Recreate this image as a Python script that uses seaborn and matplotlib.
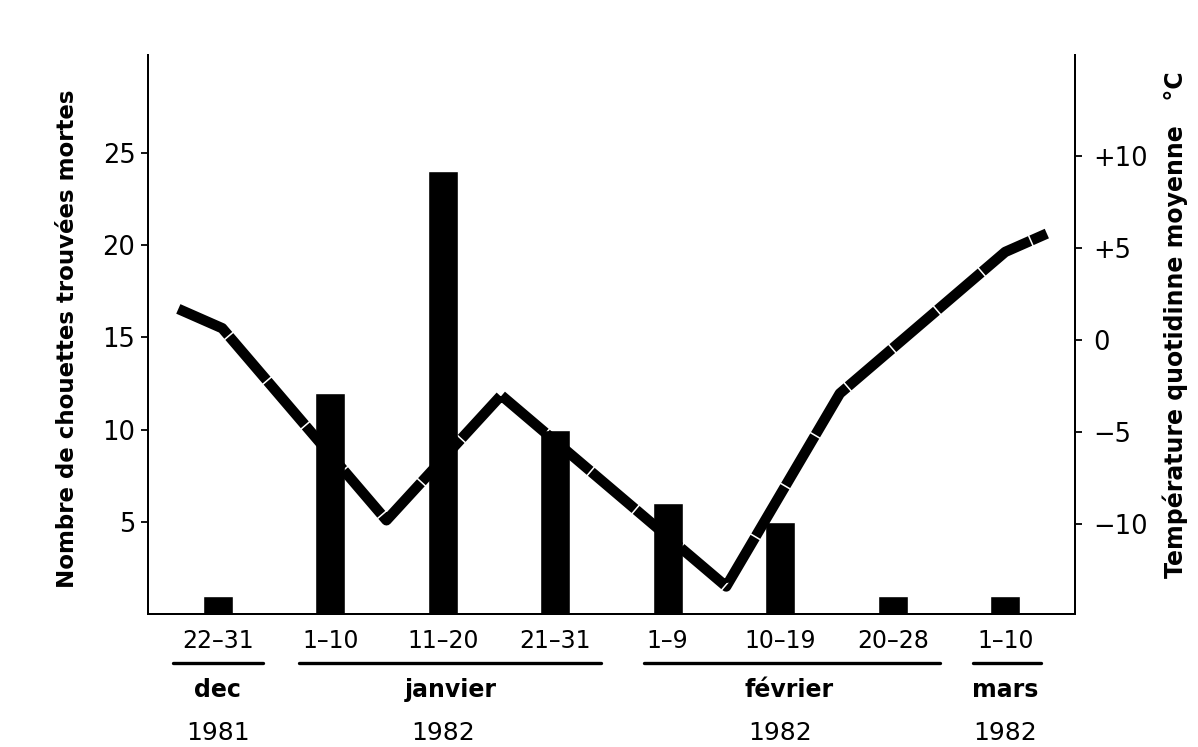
import matplotlib
matplotlib.use("Agg")
import matplotlib.pyplot as plt
import matplotlib.transforms as mtransforms
import seaborn as sns
import pandas as pd

# ---- data ----
periods = ["22–31", "1–10", "11–20", "21–31", "1–9", "10–19", "20–28", "1–10"]
owls_dead = [1, 12, 24, 10, 6, 5, 1, 1]

temp_pos = [-0.35, 0.04, 1.5, 2.52, 4.52, 5.53, 7.0, 7.37]
temp_mean = [1.7, 0.65, -9.8, -3.0, -13.4, -2.9, 4.8, 5.8]

months = ["dec", "janvier", "février", "mars"]
month_centers = [0.0, 2.07, 5.08, 7.0]
month_spans = [(-0.4, 0.4), (0.72, 3.41), (3.79, 6.42), (6.71, 7.32)]
years = ["1981", "1982", "1982", "1982"]
year_centers = [0.0, 2.0, 5.0, 7.0]

left_ticks = [5, 10, 15, 20, 25]
right_ticks = [-10, -5, 0, 5, 10]
right_ticklabels = ["−10", "−5", "0", "+5", "+10"]

sns.set_style("white")
plt.rcParams["font.family"] = ["DejaVu Sans"]
plt.rcParams["text.color"] = "black"
plt.rcParams["xtick.color"] = "black"
plt.rcParams["ytick.color"] = "black"

fig = plt.figure(figsize=(11.98, 7.47), dpi=100)
ax = fig.add_axes([0.1235, 0.178, 0.7738, 0.748])

df = pd.DataFrame({"period": pd.Categorical(range(len(periods))), "n": owls_dead})
sns.barplot(data=df, x="period", y="n", color="black", saturation=1,
            width=0.27, ax=ax, errorbar=None)

ax.set_xlim(-0.62, 7.62)
ax.set_ylim(0, 30.3)
ax.set_yticks(left_ticks)
ax.set_yticklabels([str(t) for t in left_ticks], fontsize=18.5)
ax.set_xticks(range(len(periods)))
ax.set_xticklabels(periods, fontsize=17)
ax.tick_params(axis="x", length=0, pad=11)
ax.tick_params(axis="y", direction="out", length=5, width=1.3, pad=4, left=True)
ax.set_xlabel("")
ax.set_ylabel("")

ax2 = ax.twinx()
sns.lineplot(x=temp_pos, y=temp_mean, ax=ax2, color="black", linewidth=7.5,
             sort=False, estimator=None, solid_joinstyle="miter")
ax2.lines[0].set_dashes((5.5, 0.15))
ax2.set_ylim(-14.9, 15.5)
ax2.set_yticks(right_ticks)
ax2.set_yticklabels(right_ticklabels, fontsize=18.5)
ax2.tick_params(axis="y", direction="out", length=5, width=1.3, pad=8, right=True)
ax2.set_ylabel("")

for a in (ax, ax2):
    a.spines["top"].set_visible(False)
    for s in ("left", "right", "bottom"):
        a.spines[s].set_color("black")
        a.spines[s].set_linewidth(1.4)

fig.text(68 / 1198, 1 - 339 / 747, "Nombre de chouettes trouvées mortes",
         rotation=90, ha="center", va="center", fontsize=16.5, fontweight="bold")
fig.text(1175 / 1198, 1 - 325 / 747, "Température quotidinne moyenne   °C",
         rotation=90, ha="center", va="center", fontsize=17, fontweight="bold")

trans = mtransforms.blended_transform_factory(ax.transData, ax.transAxes)
for (x0, x1) in month_spans:
    ax.plot([x0, x1], [-0.088, -0.088], color="black", lw=2.4,
            transform=trans, clip_on=False)
for name, xc in zip(months, month_centers):
    ax.text(xc, -0.136, name, transform=trans, ha="center", va="center",
            fontsize=17, fontweight="bold")
for yr, xc in zip(years, year_centers):
    ax.text(xc, -0.213, yr, transform=trans, ha="center", va="center",
            fontsize=18)

fig.savefig("out.png", dpi=100, facecolor="white")
